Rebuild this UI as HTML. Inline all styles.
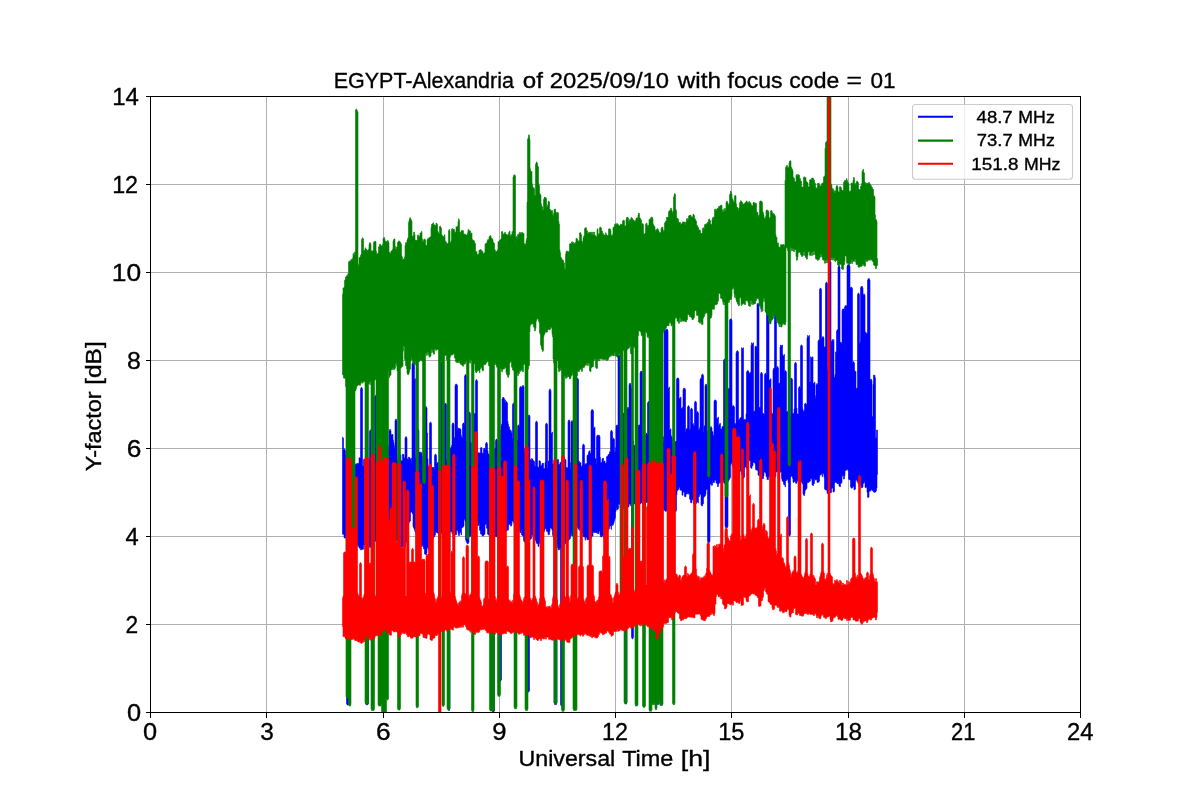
<!DOCTYPE html>
<html lang="en"><head><meta charset="utf-8"><title>EGYPT-Alexandria Y-factor</title>
<style>
html,body{margin:0;padding:0;background:#fff;}
body{width:1200px;height:800px;overflow:hidden;position:relative;font-family:"Liberation Sans", sans-serif;}
svg text{font-family:"Liberation Sans", sans-serif;fill:#000;stroke:#000;stroke-width:0.35px;}
</style></head><body>
<svg width="1200" height="800" viewBox="0 0 1200 800" style="position:absolute;left:0;top:0;will-change:transform">
<rect x="0" y="0" width="1200" height="800" fill="#fff"/>
<g id="grid" stroke="#b0b0b0" stroke-width="1.1" fill="none" shape-rendering="crispEdges">
<path d="M266.5 96V712"/>
<path d="M383.5 96V712"/>
<path d="M499.5 96V712"/>
<path d="M615.5 96V712"/>
<path d="M731.5 96V712"/>
<path d="M848.5 96V712"/>
<path d="M964.5 96V712"/>
<path d="M150 624.5H1080"/>
<path d="M150 536.5H1080"/>
<path d="M150 448.5H1080"/>
<path d="M150 360.5H1080"/>
<path d="M150 272.5H1080"/>
<path d="M150 184.5H1080"/>
</g>
<clipPath id="cp"><rect x="150" y="96" width="930" height="616"/></clipPath>
<g clip-path="url(#cp)" fill="none" stroke-linejoin="round" stroke-linecap="butt">
<path d="M342.5 534.27V437.3H343V438.2H343.5V449.6H344V448.8H344.5V449.7H345V450.3H345.5V455H346V455.2H346.5V455.4H347V458.3H347.5V458.5H348V458.8H348.5V456H349V456.2H349.5V456.4H350V457.3H350.5V457.5H351V457.8H351.5V453.3H352V453.5H352.5V453.7H353V458.7H353.5V459H354V459.2H354.5V464H355V464.2H355.5V464.4H356V463.8H356.5V464H357V464.2H357.5V463.2H358V463.5H358.5V463.7H359V457.7H359.5V458H360V458.1H360.5V388.7H361V387.5H362V388.7H362.5V466.1H363V466.2H363.5V459.4H364V459.5H364.5V459.6H365V464.4H365.5V464.5H366V464.6H366.5V458.6H367V458.7H367.5V458.8H368V459.8H368.5V459.9H369V460H369.5V431.2H370V430H371V431.2H371.5V460.9H372V461H372.5V467.1H373V467.2H373.5V467.3H374V468H374.5V397H375V395.8H376V397H376.5V463.8H377V463.6H377.5V463.7H378V463.8H378.5V461.9H379V462H379.5V462.1H380V461.3H380.5V460.3H381V459.3H381.5V464.6H382V463.6H382.5V462.6H383V460.5H383.5V459.5H384V458.5H384.5V452.1H385V451.1H385.5V450.1H386V453.3H386.5V452.3H387V451.3H387.5V449.5H388V447.9H388.5V445.6H389V430.7H389.5V429.5H390.5V430.7H391V434.6H391.5V435.3H392V434.5H392.5V434.6H393V440.2H393.5V442.6H394V445.5H394.5V448.3H395V420.4H395.5V419.2H396.5V420.4H397V460.5H397.5V460.7H398V454.5H398.5V454.8H399V455H399.5V454.3H400V454.5H400.5V454.8H401V460.6H401.5V460.8H402V461.1H402.5V454H403V454.3H403.5V454.5H404V457.8H404.5V458H405V437.9H405.5V436.7H406.5V437.9H407V458.8H407.5V459.1H408V459.3H408.5V457.1H409V457.3H409.5V457.6H410V459.6H410.5V459H411V458.3H411.5V462.7H412V363.7H412.5V362.5H414V363.7H414.5V380H415V378.8H415.5V457.7H416V454.8H416.5V430.4H417V429.2H418.5V430.4H419V452.1H419.5V452.7H420V453.2H420.5V451.9H421V452.5H421.5V453.1H422V456.3H422.5V456.9H423V457.5H423.5V461H424V461.6H424.5V462.2H425V407.9H425.5V406.7H426.5V407.9H427V433H427.5V458.6H428V466.7H428.5V467.2H429V467.8H429.5V423.4H430V422.2H431V423.4H431.5V467.5H432V467.4H432.5V467.6H433V467.5H433.5V467.3H434V469.2H434.5V455.4H435V454.2H436V455.4H436.5V463.2H437V462.7H437.5V462.5H438V462.4H438.5V466.7H439V466.6H439.5V466.5H440V465.9H440.5V363.7H441V362.5H442V363.7H442.5V464.1H443V465.6H443.5V465.4H444V404.5H444.5V403.3H446V404.5H446.5V461.1H447V459.5H447.5V451.7H448V450.1H448.5V448.6H449V451H449.5V449.5H450V447.9H450.5V448.4H451V446.9H451.5V445.3H452V424.2H452.5V423H453.5V424.2H454V438.1H454.5V437.4H455V385.4H455.5V384.2H457V385.4H457.5V429.6H458V428H458.5V428.4H459V428.8H459.5V428.6H460V429H460.5V429.4H461V435.5H461.5V437.6H462V438H462.5V424.2H463V423H464V424.2H464.5V375.9H465V374.7H466V375.9H466.5V441.4H467V438.6H467.5V439H468V439.7H468.5V413.4H469V412.2H470V413.4H470.5V442.2H471V443.2H471.5V450.4H472V451.4H472.5V452.4H473V453.8H473.5V454.8H474V414.5H474.5V413.3H475.5V380.9H476V379.7H477V380.9H477.5V452.9H478V452.8H478.5V452.7H479V453.1H479.5V453H480V452.9H480.5V447.8H481V447.7H481.5V447.6H482V453.3H482.5V453.2H483V453.1H483.5V448.7H484V448.6H484.5V448.5H485V449.5H485.5V443.7H486V442.5H487V443.7H487.5V450.5H488V453.7H488.5V454.3H489V455H489.5V456.6H490V457.3H490.5V457.9H491V457.8H491.5V458.4H492V458.2H492.5V454.5H493V453.4H493.5V452.2H494V450.1H494.5V449H495V447.9H495.5V440.4H496V439.2H497V440.4H497.5V443.1H498V442H498.5V442.2H499V441.1H499.5V439.9H500V433.9H500.5V429.9H501V425.9H501.5V424H502V398.7H502.5V397.5H504V398.7H504.5V400.4H505V399.9H505.5V402.9H506V401.7H507V402.9H507.5V421.2H508V424.2H508.5V427.2H509V426.8H509.5V429.8H510V431.3H510.5V429.9H511V431.4H511.5V432.9H512V438.3H512.5V404.5H513V403.3H514V404.5H514.5V445.5H515V447.7H515.5V446.6H516V445.6H516.5V441.6H517V440.5H517.5V426.2H518V425H519V426.2H519.5V387.9H520V386.7H521.5V387.9H522V386.7H522.5V385.5H523.5V386.7H524V448.3H524.5V451.4H525V454.5H525.5V455.7H526V457.4H526.5V457.8H527V455.8H527.5V456.2H528V416.2H528.5V415H529.5V416.2H530V459.5H530.5V459.9H531V460.2H531.5V458.6H532V458.9H532.5V459.3H533V460.7H533.5V461H534V461.4H534.5V466H535V466.3H535.5V422.5H536V421.3H537V422.5H537.5V466.8H538V467.2H538.5V467.5H539V460.7H539.5V461.1H540V461.2H540.5V465.5H541V465.4H541.5V465.3H542V463.3H543V463.2H543.5V468.6H544V468.5H544.5V468.4H545V462.3H545.5V424.5H546V423.3H547V424.5H547.5V468.1H548V461.1H549V390.4H549.5V389.2H550.5V390.4H551V433.3H552V432.1H552.5V464H553.5V463.9H554V467.2H554.5V467.1H555V467H555.5V463H556.5V462.9H557V459.7H557.5V459.6H558V459.5H558.5V464.3H559V464.2H560V462.3H560.5V462.4H561V462.5H561.5V462.4H562V462.5H562.5V462.6H563V459H563.5V459.1H564V459.2H564.5V459.4H565V459.5H565.5V459.6H566V467.5H566.5V467.6H567V467.7H567.5V468.1H568V421.2H568.5V420H569.5V421.2H570V468.7H570.5V462.7H571V422H571.5V420.8H572.5V422H573V460.1H573.5V465.3H574V465.4H574.5V465.5H575V467.4H575.5V467.5H576V467.6H576.5V379.5H577V378.3H578V379.5H578.5V461.3H579V461.4H579.5V463.3H580V463.1H580.5V462.5H581V466.7H581.5V466.1H582V465.6H582.5V445.4H583V444.2H584V445.4H584.5V464.2H585V463.7H585.5V464.6H586V464H586.5V463.5H587V455.5H587.5V455H588V454.4H588.5V451.9H589V451.4H589.5V450.8H590V453.3H591V410.9H591.5V409.7H593V410.9H593.5V428.3H594.5V427.1H595V458.5H595.5V458.8H596V463.5H596.5V436.5H597V435.3H599.5V436.5H600V457.4H600.5V462.7H601V462.4H601.5V462.1H602V458.8H602.5V458.5H603V458.2H603.5V461.6H604V461.3H604.5V461H605V463.4H605.5V463.1H606V462.8H606.5V456.7H607V456.4H607.5V456.1H608V454.7H608.5V454.4H609V454.1H609.5V451.8H610V451.6H610.5V431.7H611V430.5H612V431.7H612.5V439.5H613V438.3H614V439.5H614.5V452.6H615V451.4H615.5V447.7H616V426.2H616.5V425H617.5V426.2H618V356H618.5V354.8H619.5V356H620V439.5H620.5V440.1H621V440.6H621.5V441H622V441.6H622.5V414.5H623V413.3H624V414.5H624.5V445.6H625V445.8H625.5V445.5H626V450.2H626.5V450H627V408.7H627.5V407.5H628.5V408.7H629V384.5H629.5V383.3H630.5V384.5H631V388.3H632V387.1H632.5V441.4H633V441.1H633.5V445.9H634V445.6H634.5V445.3H635V446.3H635.5V446.1H636V445.8H636.5V439.9H637V439.7H637.5V439.4H638V426.2H638.5V425H640V372.5H640.5V371.3H642V372.5H642.5V436.5H643V436.6H643.5V436.8H644V442H644.5V442.2H645V442.3H645.5V434.5H646V433.3H647V434.5H647.5V402.9H648V401.7H649V402.9H649.5V444H650V444.1H650.5V444.2H651V444.4H651.5V447.6H652V447.7H652.5V447.9H653V444.3H653.5V444.4H654V444.6H654.5V448H655V448.2H655.5V448.3H656V443.4H656.5V443.5H657V443.7H657.5V441.7H658V441.9H658.5V442H659V443H659.5V443.1H660V442.7H660.5V447.4H661V446.4H661.5V445.4H662V438.8H662.5V437.8H663V436.8H663.5V441.2H664V331.2H664.5V330H665.5V330.4H666V329.2H667.5V330.4H668V388.3H669V387.1H669.5V430H670.5V428.8H671V435.8H671.5V436.8H672V437.9H672.5V444.3H673V445.3H673.5V446.4H674V440.6H674.5V441.7H675V442H675.5V441.6H676V441.1H676.5V379.2H677V378H678.5V379.2H679V398.3H680.5V397.1H681V408.3H682.5V407.1H683V389.5H683.5V388.3H685V389.5H685.5V432.1H686V429.3H686.5V428.8H687V428.3H687.5V407H688V405.8H689V407H689.5V429.4H690V429H690.5V409.5H691V408.3H692V409.5H692.5V423.9H693V423.6H693.5V425.9H694V425.6H694.5V402.5H695V401.3H696V402.5H696.5V412.9H697V411.7H698V412.9H698.5V430H699V429.8H699.5V427.7H700V379.5H700.5V378.3H701.5V375.4H702V374.2H703V375.4H703.5V431.9H704V425.8H704.5V426.2H705V385.4H705.5V384.2H706.5V385.4H707V430.7H707.5V431H708V431.4H708.5V430.2H709V430.6H709.5V430.9H710V427.9H710.5V426.7H711.5V427.9H712V431.5H712.5V431.8H713V435.3H713.5V435.6H714V401.2H714.5V400H716V401.2H716.5V418.3H718V417.1H718.5V426H719V424.7H719.5V423.7H720V423.4H720.5V428.7H721V428.9H721.5V429.2H722V426.6H722.5V426.8H723V427.1H723.5V360.4H724V359.2H725V360.4H725.5V430.3H726V430.5H726.5V428.4H727V428.6H727.5V428.9H728V389.5H728.5V388.3H729.5V320.2H730V319H731.5V320.2H732V407H732.5V405.8H734V407H734.5V423.8H735V423.5H735.5V424.2H736V352.7H736.5V351.5H737V350.8H738V352H738.5V420H739.5V418.8H740V418.3H740.5V417.7H741V417.1H741.5V347.8H742V348.7H743V347.8H743.5V419.4H744V419.1H744.5V420.3H745V420H745.5V419.7H746V413.7H746.5V372H747V370.8H748.5V372H749V373.3H750.5V372.1H751V345.2H751.5V342.8H752V344H753V342.8H753.5V411.6H754V411.3H754.5V411.1H755V346.5H755.5V346.3H756V347.5H756.5V346.5H757V303.6H757.5V304.8H758.5V303.6H759V407.2H759.5V407.3H760V407.2H760.5V373.7H761V372.5H762V373.7H762.5V413.3H763V413.5H763.5V413.6H764V414.3H764.5V374.5H765V373.3H766V374.5H766.5V311.1H767V312.3H768.5V311.1H769V380H770.5V378.8H771V411.6H771.5V413.6H772V413.7H772.5V413.8H773V369.5H773.5V368.3H774.5V314.5H775V315.7H776V314.5H776.5V367.9H777V366.7H778V367.9H778.5V383.3H780V347H780.5V345H781V345.7H782V345H782.5V354.6H783V355.8H784V354.6H784.5V372H785V370.8H786V372H786.5V411.8H787V411.7H787.5V411.6H788V411.2H788.5V411.1H789V411H789.5V415.2H790V415.1H790.5V379.5H791V378.3H792V379.5H792.5V413.5H793V413.4H793.5V413.3H794V408.8H794.5V363.7H795V362.5H796V363.7H796.5V408.1H797V414.1H797.5V414H798V413.9H798.5V387.9H799V386.7H800V387.9H800.5V346.2H801V345H802V346.2H802.5V408.8H803V411.4H803.5V411H804V410.6H804.5V404H805V403.6H805.5V403.2H806V404.8H806.5V404.4H807V337.7H807.5V335.5H808V336.5H808.5V336.7H809V335.5H809.5V381.7H810.5V356.8H811V357.7H812V358H812.5V356.8H813V383.3H814.5V382.1H815V398.3H815.5V395.8H816V384.9H816.5V383.7H817.5V384.9H818V341.2H818.5V340H819.5V289.4H820V288.2H821V289.4H821.5V338.5H822V337.3H822.5V336.7H823.5V337.9H824V347.9H824.5V346.7H825.5V283.5H826V282.3H827V283.5H827.5V369.8H828V366.4H828.5V361.9H829V261.9H829.5V260.7H830.5V261.9H831V341.7H831.5V341.1H832V339.6H832.5V340.8H833.5V339.6H834V378H834.5V376.9H835V374.2H835.5V351.9H836V352.9H836.5V331H837V329.8H838V266.9H838.5V265.7H839.5V266.9H840V342.8H840.5V342.1H841V343.2H841.5V342.8H842V310.2H842.5V309H844V310.2H844.5V306.9H845V305.7H847V266H847.5V264.8H849.5V266H850V288.5H850.5V287.3H852V288.5H852.5V362.9H853V361.7H854V362.9H854.5V370.8H855V371.9H855.5V371.3H856V388H856.5V389.2H857V388H857.5V294.4H858V293.2H859V294.4H859.5V344.1H860V342.1H860.5V287.7H861V286.5H862.5V287.7H863V295.2H863.5V294H864.5V295.2H865V333.3H865.5V332H866V333.2H867.5V279.9H868V278.7H869.5V279.9H870V380H870.5V379.2H871.5V380.4H872V416.6H873V384.3H873.5V375.2H875V378H875.5V437.4H876.5V430H877V430.1H877.5V474.5H877V488.1H876.5V490.6H876V491.9H875.5V492H875V492.3H874.5V492.2H874V492.1H873.5V490.8H873V490.7H872V489.4H871.5V489.5H871V490.8H870.5V490.9H870V491.1H869.5V491.5H869V497H868.5V497.4H868V497.3H867.5V492.4H867V487.3H866.5V486.8H866V487.9H865.5V487.3H865V481.3H864.5V482.8H864V483.1H863.5V483.6H863V487H862.5V487.5H862V488H861.5V486.6H861V486.2H860.5V481.8H860V483.2H859.5V482.9H859V482.7H858.5V483.9H858V482H857.5V481.8H857V479.8H856.5V480.1H856V480.6H855.5V489.1H855V489.5H854.5V490H854V486.6H853V487.3H852.5V488.1H852V488.2H851.5V487.7H851V487H850.5V480H850V479.4H849.5V479.8H849V479H848.5V471.1H848V469.7H847.5V469.3H847V469.6H846.5V470.2H846V470.4H845.5V470.7H845V475.7H844.5V478.8H844V479.1H843.5V475.3H843V475.8H842.5V476.3H842V482.7H841.5V483.2H841V483.6H840.5V486.7H840V486.6H839.5V486H839V483.8H838.5V483.7H837.5V483.4H837V482.8H836.5V482.7H836V481.9H835.5V482.3H835V482.7H834.5V491.4H834V491.8H833.5V492.1H833V487.9H832V488.5H831.5V492.6H831V492.7H830V493.3H829.5V493.9H828.5V493.5H828V493.4H827.5V493.3H827V490.2H826.5V490.1H826V489.9H825.5V489.7H825V488.8H824.5V477.4H824V474.2H823.5V473.4H823V473.2H822.5V476.7H822V474.2H821.5V474H821V474.4H820.5V475H820V475.7H819.5V481.2H819V481.9H818.5V482.4H818V482.5H817.5V482.3H817V479.7H816.5V479.8H816V479.7H815.5V480.1H815V478.5H814.5V483.5H814V483.9H813.5V485.6H813V485.2H812.5V484.9H812V479.1H811.5V478.8H811V478.5H810.5V481.1H809.5V481.8H809V482.3H808.5V482.5H808V483H807.5V482.2H807V488.5H806.5V489H806V489.8H805.5V490.2H805V493.5H804.5V495.7H804V495.1H803.5V494.3H803V484H802.5V483.2H802V482.4H801.5V481.7H801V481.6H800.5V479.7H800V478.3H799.5V478.2H799V478.5H798.5V476.4H798V480.8H797.5V481.2H797V483.2H795.5V481.5H795V481.4H794V482.5H793.5V482.2H793V478.4H792.5V476.4H792V476.1H791.5V476.2H791V476.9H790.5V534.8H790V536H789V534.8H788.5V482.5H788V479.7H787.5V479.6H787V479.5H786.5V480.5H786V481.1H785.5V486.9H785V485H784.5V484.7H784V484.3H783.5V481.7H783V481.3H782.5V480.7H782V478.6H781.5V472H781V471.4H780.5V472.3H780V472.5H779.5V472.7H779V471.3H778.5V471.5H778V471.7H777.5V471.6H777V471.8H776.5V472H776V476.4H775.5V476.6H775V476.8H774.5V473.5H774V473.7H773.5V473.9H773V476.8H772.5V477H772V477.2H771.5V476H771V476.2H770.5V476.4H770V476.6H769.5V476.7H768.5V479.6H768V479.7H767.5V479.6H767V476.7H766.5V476.5H766V473.3H765.5V472H764.5V472.2H764V475.9H763.5V478.5H763V478.7H762.5V478.8H762V478.7H761V473.1H760.5V473H759.5V475.7H759V475.4H758.5V475.1H758V470.6H757.5V470.3H757V469.9H756V469.5H755.5V464.4H755V462.7H754.5V462.3H754V462.5H753.5V461.9H753V465.7H752.5V466H752V468.4H751.5V468H751V467.5H750.5V461.2H750V460.7H749.5V460.2H749V458.9H748.5V459.3H748V459.6H747.5V467.8H747V468.2H746.5V468.6H746V466.5H745.5V467H745V467.6H744.5V477.2H744V477.7H743.5V478.2H743V475H742.5V474.8H742V474.6H741.5V471.4H741V471.2H740.5V471H740V468.6H739.5V468.2H739V467.8H738.5V469.2H738V468.8H737.5V468.3H737V467.6H736.5V467.2H736V466.8H735.5V465.4H735V465H734.5V464.6H734V467.2H733.5V466.8H733V466.4H732.5V463H732V462.6H731.5V463.4H731V464.8H730.5V477.5H730V478.5H729.5V479.4H729V480.4H728.5V481.4H728V526.5H727.5V527.7H725.5V526.5H725V483.7H724.5V483.1H724V482.5H723.5V480.8H723V480.7H722V483.1H721.5V482.5H720.5V482.7H719.5V482.9H719V483.9H718.5V486.4H718V486.6H717.5V483.5H717V483.2H716.5V483H716V480.4H715.5V480.1H715V479.9H714.5V482.4H714V482.5H713.5V482.8H713V480.8H712.5V485.2H712V485.4H711.5V483.8H711V484.1H710.5V484.3H710V541.5H709.5V542.7H708V541.5H707.5V489.6H706.5V489.9H706V494.3H705.5V495.8H705V496.3H704.5V496.8H704V497.4H703.5V503.7H703V504.2H702.5V506.1H702V505.5H701.5V505H701V494.7H700.5V494.2H700V494.1H699.5V496.4H699V496.7H698.5V502.9H698V501.7H697.5V502.1H697V502.4H696.5V503.4H696V503.3H695.5V503.2H695V504.1H694.5V504H694V503.9H693.5V499.8H692.5V499.7H692V502.7H691V502.6H690.5V499.4H690V499H689.5V493.3H689V494.1H688.5V493.8H688V493.9H687.5V492H687V493.9H686.5V494H686V496.7H685.5V496.6H685V496.5H684.5V492.2H684V492.1H683.5V492H683V495.3H682.5V495H682V490.5H681.5V490.2H681V490H680.5V490.1H680V487.3H679.5V487.4H679V489.3H678.5V489.8H678V489.9H677.5V490.9H677V494.6H676.5V510.4H676V511.9H675.5V511.1H674.5V511H674V509.9H673.5V509.8H673V509.7H672.5V510.5H672V510.4H671V509.7H670.5V509.6H670V509.5H669.5V508.8H669V508.7H668V510.7H667.5V510.6H667V510.5H666.5V511.3H666V511.2H665V510.3H664.5V510.2H664V510.1H663.5V507.3H663V507.2H662.5V507.1H662V509.1H661.5V509H661V508.9H660.5V506.8H660V506.7H659.5V506.6H659V703.3H658.5V704.5H657.5V703.3H657V506.6H656.5V506.5H656V507.4H655.5V507.2H655V507.1H654.5V507H654V700.8H653.5V702H653V700.8H652.5V504.2H652V504H651.5V506.4H651V506.3H650.5V506.1H650V506.6H649.5V506.4H649V506.3H648.5V502.5H648V502.3H647.5V502.2H647V502.6H646.5V502.3H646V502.1H645.5V506H645V505.8H644.5V505.5H644V504.3H643.5V504.1H643V503.8H642.5V503H642V502.7H641.5V502.5H641V503.9H640.5V503.6H639V503.9H638.5V504.1H638V502.3H637.5V502.5H637V502.8H636.5V502.5H636V502.7H635.5V503H635V503.7H634.5V504H634V504.2H633.5V637.6H633V638.8H632V637.6H631.5V505.5H631V505.7H630.5V503.9H630V504H629.5V504.2H629V506.9H628.5V507H628V507.1H627.5V506.5H627V702.8H626.5V704H625.5V702.8H625V505.6H624.5V508.4H623V506.4H621.5V508H620V504.1H619.5V504.2H619V504.3H618.5V508.9H618V509H617.5V509.9H617V508.1H616.5V509.9H616V511.7H615.5V517.7H615V519.5H614.5V521.3H614V523.3H613.5V524.8H613V525H612.5V525.4H612V525.6H611.5V529.4H611V525.7H610.5V525.9H610V526.3H609.5V528.7H609V529.3H608.5V529.9H608V531.6H607.5V532.2H607V532.8H606.5V534.5H606V535.1H605.5V535.7H605V536.3H604.5V536.9H604V537.5H603.5V534.9H603V535.5H602.5V536.1H602V537H601.5V536.9H601V536.7H600.5V535H600V531.3H599.5V531.1H599V533.5H598.5V533.4H598V533.5H597.5V532.6H597V532.8H596.5V533H596V532.3H595.5V532.4H595V532.6H594.5V532.1H594V532.3H593.5V532.5H593V535.9H592.5V536.3H592V536.7H591.5V538.4H591V538.8H590.5V539.3H590V538.9H589.5V539.3H589V539.7H588.5V539.2H588V539.6H587.5V540H587V537.7H586.5V537.6H586V537.4H585.5V540.2H585V537.1H584.5V536.9H584V536.7H583.5V536.4H583V535.4H582.5V533.1H582V532.1H581.5V531.1H581V530.1H580.5V529.1H580V528.1H579.5V530.3H579V529.3H578.5V528.6H578V526.4H577.5V527.2H577V528H576.5V528.5H576V529.3H575.5V530.1H575V532.7H574.5V533.5H574V534.3H573.5V535.6H573V535.7H572.5V535.9H572V533.1H571.5V535.5H571V535.7H570.5V538.4H570V538.8H569.5V539.5H569V540.1H568.5V540.7H568V541.4H567.5V542.5H567V543.2H566.5V543.9H566V542.9H565.5V543.5H565V544.2H564.5V545.5H564V546.1H563.5V546.7H563V547H562.5V704.8H562V706H561V704.8H560.5V548.2H560V548.6H559.5V549.9H559V550H558.5V549.1H558V547.5H557.5V545.8H557V703.3H556.5V704.5H554.5V703.3H554V538.4H553.5V536.8H553V535.2H552.5V530.3H552V528.7H551.5V528.6H551V527.7H550.5V527.9H550V531.6H549.5V534.4H549V534.6H548.5V534.8H548V531.7H547.5V531.6H547V531.4H546.5V528.9H546V528.8H545.5V528.6H545V530H544.5V531.3H544V532.6H543.5V534.7H543V536H542.5V537.2H542V538.6H541.5V539.9H541V541.2H540.5V541.1H540V542.3H539.5V543.6H539V546.6H538.5V546.4H538V543.9H537.5V543.5H537V543.3H536.5V542.7H536V540.4H535.5V539.7H535V539.1H534.5V540H534V539.3H533.5V538.6H533V535.6H532.5V534.9H532V534.2H531.5V538.5H531V539H530.5V539.4H530V535.8H529.5V690.8H529V692H528V690.8H527.5V538.7H527V541.8H526.5V542.2H526V542.7H525.5V541.2H525V541.7H524.5V542.1H524V540.4H523.5V536.1H523V535.8H522.5V535.2H522V534.9H521.5V529.9H521V532.8H520.5V532.5H520V532.1H519.5V529.2H519V528.6H518.5V528H518V528.2H517.5V527.6H517V527H516.5V527.1H516V526.4H515.5V525.8H515V524H514.5V523.4H514V522.8H513.5V521.2H513V521.3H512V524.8H511.5V526.1H510.5V523.8H510V524H509.5V524.4H509V524.7H508.5V529.8H508V530.2H507.5V529.9H507V530.6H506.5V531.2H506V531.8H505.5V532.5H505V533.1H504.5V537.4H504V538.1H503.5V538.7H503V538.8H502.5V539.1H502V539H501.5V679.8H501V681H500V679.8H499.5V535.9H499V535.8H498.5V537.1H498V537H497.5V536.9H497V536.8H496.5V536.7H496V536.5H495.5V536.2H495V536H494.5V710.8H494V712H492.5V710.8H492V534.9H491.5V534.7H491V531.3H490.5V531H490V530.8H489.5V535.2H489V535H488.5V534.7H488V534H487.5V528.7H487V528.1H486.5V523.8H486V524.2H485.5V524.6H485V534.2H484.5V534.6H484V535H483.5V536.1H483V535.9H482.5V535.8H482V534.3H481.5V534.2H481V534H480.5V530.7H480V530.2H479.5V523.2H479V525.4H478.5V525.1H478V525.8H477.5V523.2H477V523.9H476.5V524.7H476V525.5H475.5V526.2H475V527H474.5V527.7H474V528.4H473.5V529.2H473V531.4H472.5V532.1H472V532.8H471.5V535.1H471V535.8H470.5V536.5H470V536H469.5V536.7H469V542.3H468.5V543.5H467V542.3H466.5V541.6H466V539.7H465.5V521.3H465V519H464.5V519.5H464V525.8H463.5V526.8H463V527.2H462.5V527.7H462V528.1H461.5V535H461V532.2H460.5V532.6H460V532.8H459.5V535.5H459V535.4H458.5V533.5H458V530.8H457.5V530.7H457V530.6H456.5V534.8H456V534.7H455V530.9H454.5V530.8H454V530.7H453.5V534H452.5V533.9H452V531.7H451.5V531.8H450.5V531.7H450V709.3H449.5V710.5H448.5V709.3H448V532.7H447.5V532.8H447V532.9H446V534.4H445V534.5H444.5V532.4H443.5V532.5H443V532.8H442.5V533H442V533.1H441.5V533.2H441V533.3H440.5V533.4H440V534.3H439.5V534.4H439V534.5H438.5V532.8H438V532.9H437.5V533.1H437V532.4H436.5V532.3H436V531.7H435.5V535.1H435V535.6H434.5V536.8H433.5V538H433V539.2H432.5V537.8H432V539H431.5V540.1H431V543.2H430.5V544.4H430V545.6H429.5V547.3H429V548.5H428.5V549.5H428V547.6H427.5V548H427V553H426.5V554.3H426V554.5H425.5V554.1H424.5V549.1H424V548.7H423.5V546.8H423V545.8H422.5V544.8H422V546.8H421.5V545.8H421V544.8H420.5V544.3H420V543.3H419.5V542.3H419V538.1H418.5V537.1H418V535.9H417.5V534.4H417V533.2H416.5V532H416V533H415.5V531.8H415V530.6H414.5V528.9H414V527.8H413.5V526.8H413V513.9H412.5V512.9H412V511.8H411.5V512H411V512.6H410.5V520.9H410V521.5H409.5V522.2H409V523.3H408.5V527.2H408V542.4H407.5V543.6H407V540.9H406.5V541.5H406V542H405.5V546.6H405V547.1H404.5V547.6H404V545.1H403.5V545.6H403V546.1H402.5V546.8H402V547.3H401.5V547.1H401V546.5H400.5V546.1H400V539.9H399.5V541.6H399V541.3H398.5V540.9H398V540.4H397.5V540.2H397V540H396.5V540.8H396V540.6H395.5V540.4H395V538.5H394.5V538.3H394V538.1H393.5V539.7H393V539.5H392.5V539.3H392V535.9H391.5V535.7H391V535.5H390.5V535.2H390V535.3H389.5V535.5H389V537.6H388.5V537.9H388V538.1H387.5V538.5H387V538.8H386.5V539H386V537.1H385.5V537.3H385V537.6H384.5V540.5H384V540.7H383.5V541H383V539.5H382.5V539.7H382V540H381.5V541.2H381V541.5H380.5V541.7H380V540.2H379.5V540.4H379V540.7H378.5V540H378V540.2H377.5V540.5H377V540.8H376.5V541.1H376V541.3H375.5V541H375V541.2H374.5V541.5H374V545.4H373.5V545.7H373V545.9H372.5V543.2H372V543.4H371.5V543.7H371V547H370.5V547.2H370V547.4H369.5V546.1H369V546.2H368.5V703.5H368V704.7H366V703.5H365.5V547.2H365V544.7H364.5V544.8H364V544.9H363.5V549.2H362.5V549.3H362V549.7H361.5V549.8H360.5V548.2H359.5V548.1H359V546.5H358.5V545.8H357.5V544.8H357V544.3H356.5V543.8H356V547.4H355.5V546.9H355V546.4H354.5V541.3H354V540.8H353.5V540.3H353V544.1H352.5V543.6H352V543.1H351.5V542.7H351V542.2H350.5V541.7H350V536.8H349.5V536.5H349V703.8H348.5V705H347V703.8H346.5V536.3H346V536H345.5V538.2H345V537.9H344.5V537.7H344V534.5H343.5V534.3H342.5Z" fill="#0000ff" stroke="#0000ff" stroke-width="0.6"/>
<path d="M342.5 374.91V294.2H343V288H343.5V287.9H344V287H344.5V280.4H345V279.6H345.5V277H346V276.8H346.5V275.8H347V275.7H347.5V274.6H348V273.4H348.5V262.2H349V261H349.5V261.5H350V261.4H350.5V260.3H351V259.3H351.5V260.1H352V260H352.5V258.1H353V253.4H353.5V255.1H354V255H354.5V252H355.5V110H356V109H356.5V109.7H357V110.8H357.5V112.1H358V265.4H358.5V264.4H359V257.7H360V256.9H360.5V255.3H361V254.3H361.5V239.6H362V238.6H362.5V237.7H363V239H363.5V250.3H364V251.6H364.5V250.1H365V247.8H365.5V249.3H366V249.1H366.5V249.4H367V250.8H367.5V250.5H368V250.3H368.5V249.1H369V244.3H369.5V242.7H370V242.8H370.5V243.9H371V250.7H371.5V251.3H372.5V250.9H373V250.3H373.5V242.3H374V241.7H374.5V241.4H375V241.6H376V251.2H376.5V253.9H377V254.2H377.5V253.5H378V253.1H378.5V246.9H379V246.5H379.5V244.3H380V244.1H380.5V245.2H381V245.8H381.5V245.9H382V245.7H382.5V244.4H383V238.4H383.5V238H384V237.5H384.5V238.9H385V241.4H385.5V241.1H386V241.3H386.5V242.2H387V241.8H387.5V240.5H388V240.9H388.5V242.8H389V251.9H389.5V252.9H390V253.2H390.5V252.8H391V250.9H391.5V251H392V250.6H392.5V249.3H393V241H393.5V239.6H394V238.9H394.5V239.1H395V246.5H395.5V248.7H396V249.5H396.5V247H397V246.6H397.5V242.3H398V241.9H398.5V240.9H399.5V242H400.5V242.9H401V244.3H401.5V255.8H402V257.3H402.5V259.4H403V259.3H403.5V258.9H404.5V257H405V245.4H405.5V242.7H406V242.4H406.5V243.8H407V240H407.5V238.6H408V237.4H408.5V222.2H409V220.2H409.5V218.3H410V217.7H410.5V218.9H411V220H411.5V221H412V236.5H412.5V236.1H413V235.7H413.5V232.4H414V232H414.5V234.6H415V240.8H415.5V240H416V240.6H416.5V240.3H417V240H417.5V235.2H418V234.9H418.5V236.4H419V236.1H419.5V236.4H420V233H421V232.7H421.5V231.4H422V238.9H422.5V241.7H423V242H423.5V239.9H424V238.9H424.5V239.4H425V239.7H425.5V244.9H426V245.6H427V239.7H427.5V238.9H428V238.5H428.5V238.4H429V237.5H429.5V237.4H430V236.9H430.5V237.1H431V227.5H431.5V224.5H432V223.9H432.5V223.7H433V222.7H433.5V224.4H434V224.7H434.5V225.3H435.5V226H436V223.1H436.5V223.5H437V224.6H437.5V231.1H438V232.2H438.5V234H439V233.6H439.5V226.6H440V226.2H440.5V227.3H441V228H441.5V234.7H442V235.4H442.5V236.6H443V236.5H443.5V236.4H444V236.3H444.5V234.7H445V240.9H445.5V241.6H446V242.2H446.5V243.8H447V243.4H447.5V243.7H448V243H448.5V230.7H449V229.4H449.5V230.9H450V242.2H450.5V242.5H451V240.7H451.5V229.3H452V228.4H452.5V229.9H453V229.5H453.5V229H454V229.4H454.5V232.3H455V232.6H455.5V231.8H456V226.8H456.5V227.6H457V227H457.5V226H458V221.4H458.5V218.8H459V220.2H459.5V232H460V232.7H460.5V232.3H461V231H461.5V230.6H462V230.5H463V230.8H463.5V233.9H464V234.2H464.5V234.1H465.5V235.1H466.5V234.9H467V234.8H467.5V232.8H468V229.4H468.5V230.9H469V230.7H470V231H470.5V233.4H471V233.7H471.5V232.9H472V239.2H472.5V240.1H473V240.5H473.5V240.4H474V241H474.5V242.9H475V243.5H475.5V251.2H476V252.3H476.5V251.7H477V255.3H477.5V254.2H478.5V253.9H479V250H479.5V250.3H480V250.1H480.5V249.5H481V250.2H481.5V251.5H482V251.7H482.5V251.2H483V254H483.5V253.8H484V253.1H484.5V252.7H485V243.9H485.5V243.7H486V243H486.5V243.7H487V241.2H487.5V239.8H488V239.5H488.5V239.9H489V237H489.5V236.1H490.5V235.6H491V238.1H491.5V238.4H492V238.7H492.5V239.5H493V242.4H493.5V242.7H494V243.6H494.5V249.7H495V250.2H495.5V252.3H496V251.9H496.5V251H497.5V249.7H498V241.5H498.5V241.9H499.5V240.1H500.5V239.6H501V238.5H501.5V231.8H502V231.4H502.5V232.7H503V235H503.5V234.1H504V234H504.5V232.6H505V232.4H505.5V234.1H506V234.3H506.5V234.6H507V234.8H507.5V235.3H508V235H508.5V232.7H509V232.4H509.5V231H510V234.7H510.5V235.9H511V236H511.5V234.4H512V231.5H512.5V233.7H513V176.8H513.5V175.3H514V175.2H514.5V174.8H515V175.9H515.5V236.4H516V236.3H516.5V238.5H517V237.5H517.5V234.6H518V234.5H518.5V235.3H519V232.4H519.5V233.7H520V233.6H520.5V232.4H521V232.5H521.5V233.7H522V232.5H522.5V233H523V233.4H523.5V233.6H524V243.9H524.5V243.7H525V243.9H525.5V245.5H526V240.6H526.5V238.4H527V202.1H527.5V139.3H528V137.6H528.5V134.9H529V135.2H529.5V139.2H530V168.8H530.5V171.3H531V171.8H531.5V171.4H532V183.7H532.5V186.6H533V188.7H533.5V187.7H534V188.4H534.5V195.3H535V196.1H535.5V163.9H536V163.1H536.5V161.9H537V163.3H537.5V165.6H538V167.1H538.5V183.5H539V185.4H539.5V193.3H540V194.5H540.5V195H541V204H541.5V205.9H542V206.8H542.5V210.3H543V210H543.5V199.6H544V198.2H544.5V197.1H545V198.1H545.5V197.5H546V198.4H546.5V206.6H547V206.9H547.5V205.1H548V202.1H548.5V201.1H549V202.1H549.5V209.1H550V209.6H550.5V210.9H551V211.3H551.5V210.4H552V210.6H552.5V215H553V215.4H553.5V213.1H554V209.5H554.5V209H555.5V211.9H556V212.3H556.5V214.3H557V212.9H557.5V212.4H558V213H558.5V221.4H559V224.3H559.5V249.7H560V252.4H560.5V256.8H561V257.7H561.5V258.7H562V259.7H562.5V260H563V260.4H563.5V262.6H564V262.9H564.5V268.4H565V269.4H565.5V254.2H566V251.6H566.5V251H567V250.9H567.5V251.9H568V251.8H568.5V251.7H569V251.2H569.5V244.1H570V243.5H570.5V243.9H571V243.7H571.5V241.9H572V241.8H572.5V243.2H573.5V242.4H574V243.4H575V243.2H575.5V242.1H576V238.2H576.5V238.8H577V238.9H577.5V240.7H578V240.8H578.5V241.2H579V240.8H579.5V233H580V232.5H580.5V233.6H581V234.4H581.5V240.8H582V241.7H582.5V244.1H583V237.9H583.5V236.4H584V235.7H584.5V228.7H585V228H585.5V227.6H586V227.9H586.5V230.5H587V230.8H587.5V233.4H588V233.3H588.5V232.4H589V232.3H589.5V232.4H590.5V232.5H591V234.5H591.5V232H592V232.1H592.5V234.6H593.5V232.1H594.5V235H595V235.3H595.5V236.6H596V236.8H596.5V236.2H597V229.4H597.5V228.8H598V233.6H598.5V234.7H599V234.1H599.5V227.7H600V227H600.5V227.5H601V228H601.5V230.8H602V231.3H602.5V233.6H603.5V234.9H604.5V235.1H605V235.2H605.5V232.8H606V233.9H606.5V235.3H607V235.4H607.5V235.6H608V235.2H608.5V229.1H609V228.8H609.5V229H610.5V230.7H611V235.1H611.5V236H612V235.9H612.5V234.3H613V227.2H613.5V227.4H614V226.8H614.5V224.4H615V223.8H615.5V224.7H616V224.6H616.5V223.6H617.5V224.5H618.5V225.6H619.5V225.9H620V225.4H620.5V224.1H621.5V224.8H622V224.5H622.5V221H623V220.7H623.5V220H624V220.8H624.5V225.8H625V225.9H625.5V225.8H626V219.2H626.5V217.5H627V217H627.5V217.7H628V218H628.5V221.2H629V221.4H629.5V219.6H630V219.4H630.5V219.3H631V217.4H631.5V218.2H632V218.1H632.5V219.5H633V219.7H633.5V220.4H634V220.6H634.5V222H635.5V220.1H636V218.2H636.5V218H637V217.7H637.5V219H638V215.1H638.5V213.1H639V213.6H639.5V217.9H640V218.3H640.5V219.6H641V220.1H641.5V223.6H642V224H642.5V223.6H643V224.4H643.5V233.9H644V234.6H644.5V233.8H645V232.9H645.5V224.3H646V223.4H646.5V223.1H647V225.1H647.5V226.4H648V226.2H648.5V225.1H649V219.3H649.5V219.7H650V219.4H650.5V218H651V217.4H651.5V217H652V217.3H652.5V218.7H653V224.2H653.5V225.6H654V225.9H654.5V226.8H655V231.6H655.5V229.9H656V230.3H656.5V229.6H657V228.6H657.5V229.5H658.5V230.8H659V232.7H659.5V232.5H660V232.4H660.5V232.5H661V228.6H661.5V227.5H662.5V227.2H663V230.2H663.5V231.4H664V230.5H664.5V223H665V222.2H665.5V221.3H666V221.1H666.5V217.3H667V217.2H667.5V217.7H668V217.1H668.5V211.7H669V211.1H669.5V210.4H670V210.3H670.5V208.4H671V208.2H671.5V210.1H672V213.5H672.5V211.9H673V210.7H673.5V197.3H674V194.9H674.5V193.5H675V194.6H675.5V208.9H676V210.7H676.5V217.7H677V218.3H677.5V218.7H678V219.1H678.5V222.3H679V222.7H679.5V222.2H680V222.3H680.5V224.7H681V223.8H681.5V223.7H682V223.6H682.5V221.9H683V222H684.5V222.3H685.5V224.4H686V221.5H686.5V218.8H687V218.6H687.5V219.4H688V219.2H688.5V215.9H689V215.7H689.5V215.3H690.5V215.1H691V217H691.5V216.9H692V216.8H692.5V217H693V214.1H693.5V215.1H694V215.5H694.5V218.6H695V219H695.5V220.6H696V221.1H696.5V225.2H697V225.6H697.5V226.8H698V227.2H698.5V229.5H699V229.9H699.5V230.2H700V230.3H700.5V233.5H701V233.6H701.5V233.2H702V232.9H702.5V228.1H703V227.8H703.5V228.7H704V228.4H704.5V224.7H705V224.4H705.5V224.1H706V224.2H706.5V223.5H707V223.6H707.5V222.2H708V221.8H708.5V219.4H709V219.1H709.5V220.2H710V220.7H710.5V224H711V224.6H711.5V224.4H712V219.5H712.5V217.8H713V217.3H713.5V217.4H714V216.8H714.5V209.6H715V209H715.5V210.9H716V210.7H716.5V209H717V208.8H717.5V208.4H718V208.3H718.5V206.7H719V206.6H719.5V206.1H720.5V205.2H721V205.1H721.5V205.4H722V209.7H722.5V211.5H723V211.7H723.5V209.5H724V208.5H724.5V210.9H725V210.6H725.5V208.5H726V202.3H726.5V201.4H727V201.3H727.5V202.9H728V205.3H728.5V204.6H729V203.4H729.5V194.8H730V193.5H730.5V191.1H731V192.2H731.5V194H732V199.7H732.5V198.8H733V200.8H733.5V202.4H734V202H734.5V195.9H735V195.5H735.5V195.8H736V203.8H736.5V207H737V207.6H737.5V207.5H738V210.5H738.5V208.7H739V208H739.5V202.8H740V202.1H740.5V200.8H741V201H741.5V202.1H742V202.3H742.5V204.2H743V204.1H743.5V203.9H744V203.8H744.5V203.2H745V203.1H745.5V201.9H746V201.7H746.5V200.9H747V202.9H747.5V202.1H748V202.2H748.5V202.4H749V201.5H749.5V203.1H750V203.2H750.5V202.7H751V204.7H751.5V205.8H752.5V205.7H753V202.7H753.5V202.3H754V202.5H754.5V203.7H755V204H755.5V202.9H756V203.6H756.5V212H757V212.7H757.5V212.3H758V215.4H758.5V216.8H759V215H759.5V201.8H760V200.9H760.5V201.1H761.5V201.4H762V202.6H762.5V211.5H763V212.8H763.5V215H764V217.9H764.5V218.3H765V218.2H765.5V216.5H766V210.6H766.5V209.9H767V210H767.5V210.7H768V210.8H768.5V212.2H769V218.7H769.5V217.8H770V217.2H770.5V211H771V210.4H771.5V210.5H772V212.1H772.5V213.9H773V214.1H773.5V213.5H774V214.4H774.5V215.1H775V216.4H775.5V234.3H776V236.9H776.5V237.4H777V243.5H777.5V242.8H778V243H778.5V246.8H779V247H779.5V247.2H780.5V244.7H783V244.6H783.5V244.8H784.5V246.2H785V180.3H785.5V167.5H786V166.5H786.5V165.4H787.5V167.4H788.5V166.9H789V162.7H789.5V161.1H790V160.7H790.5V161.2H791V167.1H791.5V168.5H792V169.2H792.5V170.6H793V177.4H793.5V177.8H794V178.3H794.5V181.5H795V182H795.5V181.7H796V174.7H796.5V176H797V175.7H797.5V174.3H798V175.3H798.5V174.8H799V175.1H799.5V178.5H800V178.8H800.5V180.9H801V181.3H801.5V186.8H802V187.3H802.5V187H803V186.5H803.5V177.3H804V176.8H804.5V178H805V177.9H805.5V177.4H806V181.2H806.5V182H807V182.4H807.5V182.8H808V186.7H809V186.5H809.5V180.2H810V179.5H810.5V180.1H811V180H811.5V178.2H812V178.1H813V178.3H813.5V179.8H814V180H814.5V182.7H815V183.4H815.5V187.6H816V188.3H816.5V187.9H817V187.6H817.5V183.5H818V183.1H818.5V183.4H819V183.7H819.5V185.7H820V186.1H820.5V185.9H821V185.5H821.5V183.8H822V183.4H822.5V183H823V182.7H823.5V176.9H824V176.5H824.5V175.9H825V148.2H825.5V142.8H826V141.6H826.5V141.8H827V75.6H827.5V77.4H828.5V76.7H829.5V77.2H830.5V75.2H831V184H831.5V185.3H832V189.2H832.5V188.6H833V188.9H833.5V191.2H834V193.1H834.5V190.8H835V190.6H835.5V192.4H836V186.6H836.5V185.7H837.5V186.8H838V191.7H838.5V192H839V191.7H839.5V186.8H840V186.6H840.5V187.5H841V187.7H841.5V190.2H842V190.4H842.5V190.8H843V190.2H843.5V182.4H844V181.8H844.5V180.4H845V180.3H845.5V180.7H846V180.6H846.5V178.5H847V180.5H847.5V182.3H848V182.8H848.5V183.7H849V191.5H849.5V191.2H850.5V190.8H851V183H851.5V183.8H852V183.2H853V180.3H853.5V177.4H854V177.8H854.5V184.1H855V184.4H855.5V183.2H856V183H856.5V181.3H857V181.1H857.5V182H858V182.7H858.5V189H859V189.6H859.5V189.9H860V189.5H860.5V186.3H861V186H861.5V183.5H862V171.2H862.5V170.4H863V169.3H863.5V172.2H864V173.1H864.5V181.8H865V182.7H865.5V183.4H866V184.4H866.5V183.1H867V183H867.5V184.6H868V183.7H868.5V182.4H869V182.6H869.5V183.8H870V184H870.5V185.5H871V185.8H871.5V187.3H872V187.6H872.5V189H873V189.6H873.5V195.4H874V196H874.5V196.9H875V214.9H875.5V219.4H876V219.8H876.5V221.2H877V258.6H877.5V265.4H877V265.5H876.5V268.6H876V268.7H875.5V266H875V265.8H874.5V265.2H874V265H873.5V262H873V261.5H872.5V260H872V259.6H871.5V260.2H870.5V259.5H869.5V260.2H869V260.3H868.5V258.9H868V260.8H867.5V261.4H867V261.5H866.5V260.1H866V260.3H865.5V266.1H865V266.3H864.5V265.5H863.5V264.3H863V263.7H862.5V265.7H861.5V266.5H861V266.6H860V266.7H859.5V267.3H859V267.1H858.5V267H858V264.5H857.5V264.6H857V264.4H856.5V264.5H856V261.9H855.5V259.7H855V259.6H854.5V261.4H854V261.5H853.5V260.7H853V260.8H852.5V263.4H852V263.5H851.5V260.3H851V262.2H850.5V263.9H849.5V264.6H849V264.5H848.5V263.1H848V263H847.5V263.4H847V262.9H846.5V256.3H846V256H845.5V255.6H845V261.5H844.5V264.5H844V264.9H843.5V269.2H843V269.6H842.5V269H842V268.7H841.5V264.7H841V264.5H840.5V264H840V263.9H839.5V266H838.5V265.2H838V264.9H837.5V260.5H837V260.2H836.5V260.4H835.5V261.6H835V261H834.5V258H833.5V260.1H832.5V258.1H831.5V260H831V260.1H830.5V260.2H830V260.4H829.5V260.6H829V260.8H828.5V259.2H828V259.4H827.5V262.8H827V262.9H826.5V260.5H826V260.7H825.5V263.2H824.5V259.9H823.5V260.2H823V259.7H822.5V257.3H822V256.7H821.5V254.4H821V254.6H820.5V257.2H820V257.4H819.5V259.2H819V259.3H818.5V260H818V260.6H817.5V259H816.5V259.2H816V258.8H815.5V254.8H815V254.4H814.5V251.3H813.5V254.7H813V255.4H812.5V252.4H812V252.5H811.5V255.5H811V255.4H810.5V255.3H810V255.2H809.5V251.2H809V251.4H808.5V252.2H808V255.4H807.5V258.9H807V259.2H806.5V257.8H806V257.6H805.5V255.7H805V255.5H804.5V252.1H803.5V255.2H803V255.8H802.5V256.4H801.5V254.7H801V254.6H800.5V252.4H800V252.3H799.5V252H799V252.2H798.5V252.8H798V257.2H797.5V259.9H797V260.3H796.5V256.4H796V249.9H795.5V249.4H795V249H794.5V251.6H794V251.5H793.5V248.9H793V248.8H792.5V250.9H792V250.8H791.5V248H791V247.3H790.5V464.8H790V466H788.5V464.8H788V250.5H787.5V247.7H787V247.8H786.5V248H786V322.2H785.5V324.7H784.5V324.3H784V324.2H783.5V323.5H783V323.6H782.5V325.2H782V327.1H781.5V326.8H781V326.9H780.5V324.1H780V324H779.5V326.7H779V324.2H778.5V323.1H778V323H777.5V320.4H777V320H776.5V321.5H776V316.4H775.5V315.6H775V315.5H774V315.7H773.5V318.6H773V318.8H772.5V319.9H772V320.1H771.5V321.4H771V324H770.5V323.8H770V323.6H769.5V321.8H769V321.3H768.5V315.5H768V315H767.5V315.3H767V315.1H766.5V312.7H766V312.3H765.5V311.4H765V301.5H764.5V298.2H764V298.6H763.5V301.7H763V311.2H762.5V308.8H762V309.5H761.5V311.8H761V308.5H760.5V306.3H760V305.8H759.5V306.1H759V299.5H758.5V298.1H757.5V298.8H756.5V300.5H756V300.9H755.5V303.5H755V303.9H754.5V303.7H754V303.6H753.5V304.6H753V302.1H752.5V304.4H752V304.2H751.5V300.5H751V300.6H750.5V306.2H750V306.4H749.5V305.8H749V305.7H748.5V302.8H748V300.9H747.5V301.1H747V301H746.5V300.6H746V300.7H745.5V304.5H745V304.6H744.5V303.8H744V303.9H743.5V302.9H743V303.5H742.5V304.5H742V304.6H741.5V305.4H741V297.8H740.5V297.6H740V298.2H739.5V305.3H739V305.9H738.5V304.4H738V304.1H737.5V302.2H737V301.9H736.5V300H736V295.4H735.5V297.8H735V297.2H734.5V293.8H734V287.3H733.5V288.6H733V289.3H732.5V288.3H732V296.5H731.5V299.2H731V299.8H730.5V299.5H730V299.7H729.5V302.2H729V302.5H728.5V301H728V495.8H727.5V497H725.5V495.8H725V305H724.5V302.5H724V302.3H723.5V304.6H723V301.4H722.5V299.1H722V298.8H721.5V298.5H721V298H720.5V294.1H720V293.6H719.5V293H719V293.6H718.5V301H718V301.7H717.5V304.1H717V304.2H716.5V304.8H716V305H715.5V304.6H715V304.9H714.5V309.1H714V309.5H713.5V308.4H713V308.9H712.5V309.2H712V315.5H711.5V317.8H711V318.1H710.5V318.3H710V475.8H709.5V477H708V475.8H707.5V313.6H707V313.1H706.5V312.4H706V312.5H705.5V314.1H705V314.2H704.5V316.6H704V317H703.5V318.3H703V324.6H702.5V323.9H702V324.4H701.5V322.2H701V320.9H700.5V323.2H700V323H699.5V322.2H699V321.9H698.5V315.8H698V315.4H697.5V315.6H697V315.2H696.5V311.2H696V310.8H695.5V310.6H695V311.2H694.5V317.6H694V318.2H693.5V319.3H693V319.1H692.5V319.9H692V318H691.5V316.9H691V316.8H690.5V316.9H690V316.7H689.5V314.9H689V314.8H688.5V314H688V314.6H687.5V319.5H687V320.1H686.5V321.8H686V321.7H685.5V321.5H685V320.8H684.5V320.9H683.5V321.2H682.5V320.6H682V320H681.5V321.8H680.5V318H680V318.1H679.5V323.2H679V323.3H678.5V321.2H678V320.9H677.5V321.3H677V318.1H676.5V317.7H676V317.6H675.5V318.7H675V703.5H674.5V704.7H673V703.5H672.5V324.1H672V325.1H671.5V326H671V323.3H670.5V322.6H669.5V323.3H669V326H668.5V325H668V325.7H667.5V325.4H667V326H666.5V327.8H666V328.5H665.5V329.2H665V329.9H664.5V330H664V330.7H663.5V332.6H663V704.3H662.5V705.5H660V704.3H659.5V701.8H659V703H657V708.5H656.5V709.7H655.5V708.5H655V703.5H654.5V704.7H652.5V703.5H652V710.1H651.5V711.3H649.5V710.1H649V336.6H648.5V337.7H648V337.4H647.5V336.6H647V332.8H646.5V332.2H646V332.1H645.5V706H645V707.2H643V706H642.5V335.6H642V336H641.5V334.6H641V331.9H640.5V331.2H640V331.1H639.5V331H639V331.2H638.5V335.8H638V704.8H637.5V706H635.5V704.8H635V347.9H634.5V346.6H634V346.8H633.5V598.8H633V600H632V598.8H631.5V354H631V353.7H630.5V346.2H630V345.9H629.5V348.1H628.5V348.7H627.5V349.4H627V702.6H626.5V703.8H624.5V702.6H624V350.9H623.5V350.3H623V598.8H622.5V600H620.5V598.8H620V354.1H619.5V354H619V354.1H618.5V355.5H618V357.4H617.5V356.3H617V356.5H616.5V356.3H616V356H615.5V352.9H615V352.7H614.5V355.8H614V356H613.5V355.1H613V355.5H612.5V354.4H612V354.8H611.5V356H611V356.4H610.5V355.5H610V355.9H609.5V357.3H609V357.7H608.5V359.6H608V360H607.5V360.3H607V360.7H606.5V359.6H605.5V359.4H604V359.3H603.5V359.7H603V359.6H602.5V358.7H602V358.6H601.5V359.3H601V359.2H600.5V358.7H599.5V360.9H599V361H598.5V358.9H598V359.3H597.5V368.2H597V368.6H596.5V367.9H596V367.3H595.5V359.2H595V358.6H594.5V360.3H594V360.8H593.5V366.4H593V366.8H592.5V366.9H592V367.2H591.5V367.8H591V371.6H590.5V371.2H590V370.9H589.5V363.5H589V362.6H588.5V365.4H588V365.5H587.5V363.4H586.5V365.2H586V365.3H585.5V364H585V365.9H584.5V367.3H584V367.4H583.5V367.6H583V367.7H582.5V371.2H582V371.4H581.5V369.3H581V369.4H580.5V368.4H580V369.4H579.5V371.4H579V371.5H578.5V371.1H578V371.4H577.5V375.9H577V709.3H576.5V710.5H573.5V709.3H573V372.8H572.5V375.1H572V375.2H571.5V376H571V377.9H570.5V378.8H570V378.9H569.5V377H569V376.9H568.5V375.9H568V375.8H567.5V377.4H567V377.6H566.5V378.3H566V378.4H565.5V376.4H565V375.8H564.5V710.1H564V711.3H562V710.1H561.5V370.3H561V370.5H560.5V368.6H560V370.5H559.5V371.6H559V371.7H558.5V368.2H558V360.7H557.5V360.6H557V702.6H556.5V703.8H554.5V702.6H554V363.1H553.5V359.3H553V336.8H552.5V334.3H552V328.2H551.5V326.9H551V327H550.5V329.2H550V330.1H549.5V329.3H548.5V329.6H548V329.7H547.5V332H546.5V332.2H546V332.3H545.5V331.7H545V333.7H544.5V334.7H544V336.7H543.5V350.7H543V351.6H542.5V349.9H542V348.9H541.5V346.7H541V344.9H540.5V334.4H540V332.8H539.5V322.7H539V321.2H538.5V319H538V318.4H537.5V319.2H537V319.5H536.5V321.2H536V328.5H535.5V330.7H535V330.8H534.5V327.4H534V326.9H533.5V324.1H533V322.5H532.5V324.2H531.5V323.2H531V324.2H530.5V325.8H530V332H529.5V365.7H529V365.9H528.5V369.1H528V709.3H527.5V710.5H525.5V709.3H525V364.3H524V364.7H523.5V371.4H523V371.8H522.5V369.4H521.5V370.5H521V371.4H520.5V370.5H519.5V373.6H518.5V375.4H518V375.5H517.5V372.5H517V707.6H516.5V708.8H514.5V707.6H514V370.7H513.5V370.1H513V370H512.5V367.6H512V367.1H511.5V361.8H511V361.3H510.5V362.2H510V363.3H509.5V374.4H509V375.5H508.5V377.4H508V376.8H507.5V374.8H507V374.6H506.5V372.8H506V367.9H505.5V367.8H505V367.6H504.5V368.9H504V369H503.5V369.1H503V369.2H502.5V371.6H502V371.5H501.5V369.3H501V368.3H500.5V695.1H500V696.3H498V695.1H497.5V367.3H497V367.2H496.5V365.2H496V363.3H495.5V364.7H495V364.6H494.5V709.8H494V711H490V709.8H489.5V365.9H489V365.7H488.5V361.4H488V361.2H487.5V362.1H487V362.2H486.5V363H486V364H485.5V364.7H485V365H484.5V364.1H484V364.4H483.5V370.6H483V371H482.5V370H482V368H481.5V367.1H481V367.4H480.5V368.9H480V372.7H479.5V370.4H479V370.7H478.5V370.3H478V370.2H477.5V371.6H477V371.5H476.5V372.7H476V372.2H475.5V370.6H475V363.9H474.5V363.7H474V710.5H473.5V711.7H472V710.5H471.5V360.3H470.5V363.2H470V362.8H469.5V359.2H469V537.8H468.5V539H467V537.8H466.5V360.9H466V361.4H465.5V363.9H465V364.2H464.5V363.8H464V364.1H463.5V366.2H463V366.1H462.5V365H462V364.9H461.5V364.5H461V364.3H460.5V363.2H460V363H459.5V361.3H459V361.2H458.5V362.7H458V362.6H457.5V361.9H457V361.8H456.5V362.4H456V361.4H455.5V358.5H455V358.1H454.5V354.1H454V353.5H453.5V354.3H453V354.2H452.5V355.1H451.5V354.8H451V355.3H450.5V357.1H450V708.5H449.5V709.7H447.5V708.5H447V359.7H446.5V355.1H446V354.9H445.5V355.6H445V355.9H444.5V705.1H444V706.3H442.5V705.1H442V363.3H441.5V360.5H441V598.8H440.5V600H439V598.8H438.5V349.8H438V349H437.5V349.5H437V349.4H436.5V350.4H436V350.3H435.5V348.7H435V349H434.5V353.9H434V354.2H433.5V352.8H433V352.2H432.5V349.7H432V349.8H431.5V352.8H431V356.3H430.5V356.4H429.5V357.2H429V355.2H428.5V352.6H428V352.5H427.5V355.1H427V355.5H426.5V353.3H426V353.8H425.5V482.3H425V483.5H423V482.3H422.5V361H422V361.1H421.5V359.7H421V360.1H420.5V360.5H419.5V361.8H419V361.9H418.5V706.5H418V707.7H416.5V706.5H416V361H415.5V364.7H413.5V361.7H412.5V360H412V357H411.5V359.9H411V361.4H410.5V369H410V369.8H409.5V372.3H409V374.2H408.5V374.7H408V374.5H407.5V373.6H407V368.7H406.5V366.1H406V365.4H405.5V360.6H405V359.2H404.5V346.6H404V346.3H403.5V351.1H403V366.6H402.5V365.8H402V366.6H401.5V367.5H401V368.5H400.5V708.8H400V710H398V708.8H397.5V370.9H397V366H396.5V363.3H396V363.7H395.5V368.3H395V368.7H394.5V369.7H393.5V367.5H393V368.4H392.5V369.6H392V369.9H391.5V369.1H391V374.9H390.5V375.5H390V375.4H389.5V377.7H389V370.9H388.5V698.8H388V700H387V698.8H386.5V711.8H386V713H382V711.8H381.5V704.8H381V706H378.5V704.8H378V598.8H377.5V600H376.5V598.8H376V379.8H375.5V379.3H375V380.2H374.5V709.3H374V710.5H371.5V709.3H371V384.7H370.5V381.5H370V381.9H369.5V384.3H368.5V702.8H368V704H365.5V702.8H365V380.7H364.5V381.8H363.5V382.2H363V383.2H362.5V381.4H362V381.5H361.5V383.2H360.5V385.2H360V385.3H359.5V384.7H359V385H358.5V384.9H358V385.1H357.5V386.1H357V386.2H356.5V388.6H356V390.5H355.5V390.9H355V558.8H354.5V560H351.5V558.8H351V704.8H350.5V706H349V704.8H348.5V696.8H348V698H346.5V696.8H346V386.5H345.5V378.6H345V378.1H344.5V378.2H344V378.1H343.5V375.1H343V374.9H342.5Z" fill="#008000" stroke="#008000" stroke-width="0.6"/>
<path d="M342.5 626.58V598H343V595.7H343.5V553.2H344V552H345.5V553.2H346V459.7H346.5V458.5H351V459.7H351.5V529.7H352V528.5H355V478H355.5V476.8H357V478H357.5V593.1H358V595.2H358.5V596.8H359V595H359.5V563.9H360V562.7H361V563.9H361.5V598.1H362V600H362.5V597.8H363V597.7H363.5V595.9H364V593.9H364.5V458.9H365V457.7H368.5V458.9H369V564.2H369.5V563H370.5V564.2H371V455.2H371.5V454H374V455.2H374.5V594.5H375V596.5H375.5V595.8H376V463H376.5V461.8H378V463H378.5V446.9H379V445.7H380.5V446.9H381V462.2H381.5V461H383V462.2H383.5V458.9H384V457.7H388V458.9H388.5V521H389.5V519.8H390V509.2H390.5V508H392V463.9H392.5V462.7H396V463.9H396.5V542.2H397V541H397.5V542.2H398V464.7H398.5V463.5H400.5V464.7H401V548H402.5V546.8H403V482.2H403.5V481H405V482.2H405.5V596.1H406.5V491.4H407V490.2H408.5V491.4H409V563.2H409.5V562H411.5V549.7H412V548.5H413V549.7H413.5V562H415V563.2H415.5V472.2H416V471H418.5V472.2H419V484.3H421V483.1H421.5V560.5H422V559.3H424.5V560.5H425V595.2H425.5V593H426V555.7H426.5V554H427V554.5H427.5V555.2H428V554H428.5V465.5H429V464.3H431V465.5H431.5V486.4H432V485.2H433V486.4H433.5V592.5H434V594.5H434.5V597.7H435V599.3H435.5V602.2H436.5V599.5H437V597.9H437.5V597.5H438V595.5H438.5V471.4H439V470.2H440.5V471.4H441V597.8H441.5V597H442V466.4H442.5V465.2H449.5V466.4H450V592.3H450.5V593.5H451V552.2H451.5V551H452V552.2H452.5V455.5H453V454.3H454.5V455.5H455V596.4H455.5V598.9H456V600.6H456.5V602.2H457V603.4H457.5V604.8H458V605.8H458.5V602.8H459.5V601.8H460V600.8H460.5V602.7H461V601.1H461.5V595.4H462V593.3H462.5V558H463V556.8H464V558H464.5V593H465V594.8H465.5V593.7H466V546.4H466.5V545.2H468V546.4H468.5V595.7H469V597.9H469.5V594.8H470V595H470.5V594.3H471V592.5H471.5V467.2H472V466H474V467.2H474.5V433H475V431.8H477V433H477.5V557.2H478V556H479V557.2H479.5V597.7H480V599.8H480.5V600.6H481V602.2H481.5V606H482V607H482.5V606.2H483V605H483.5V599.6H484V597.9H484.5V598.4H485V562.2H485.5V561H488V562.2H488.5V599H489.5V469.7H490V468.5H494.5V469.7H495V596.7H495.5V599.7H496V601.4H496.5V599.3H497V597.3H497.5V468H498V466.8H500.5V468H501V477.2H501.5V476H503.5V462.2H504V461H506V462.2H506.5V567.2H507V566H508V567.2H508.5V599.5H509V601.5H509.5V599.9H510V601.5H510.5V601.9H511V602.8H511.5V601.6H512V600.3H512.5V603.2H513V601.4H513.5V594.3H514V466.4H514.5V465.2H516.5V466.4H517V482.2H517.5V481H519V482.2H519.5V594.8H520V596.9H520.5V598.8H521V600.5H521.5V600.3H522V601.4H522.5V603.2H523V602.1H523.5V598.8H524V597.1H524.5V599.6H525V447.2H525.5V446H528V447.2H528.5V481H529.5V479.8H530V599.2H530.5V598.3H531V600H531.5V601.4H532V599.7H532.5V598.1H533V488H533.5V486.8H534.5V488H535V596H535.5V597.4H536V599.1H536.5V601.2H537V602.4H537.5V606.5H538V605.3H538.5V604.2H539V602.5H539.5V598.4H540V481.4H540.5V480.2H543.5V481.4H544V597.6H544.5V599.6H545V601.3H545.5V606.5H546V607.7H546.5V606.9H547V607.9H547.5V606.4H548.5V606.2H549.5V606.4H550.5V608.8H551V607.8H551.5V605H552V603.4H552.5V598.2H553V596.2H553.5V460.5H554V459.3H556V460.5H556.5V598H557V600H557.5V604.8H558V606.4H558.5V607.7H559.5V604.8H560V603.2H560.5V602.5H561V600.5H561.5V456.9H562V455.7H564V456.9H564.5V596.1H565V598H565.5V597H566V481.4H566.5V480.2H568V481.4H568.5V596.1H569V598.1H569.5V602.4H570V600.7H570.5V595.6H571V565.5H571.5V564.3H574.5V464.7H575V463.5H576.5V464.7H577V599.1H577.5V598.9H578V596.9H578.5V567.2H579V566H580V481.4H580.5V480.2H582V481.4H582.5V566H583V567.2H583.5V599.3H584V601.2H584.5V602.3H585V603.9H585.5V599.5H586V597.8H586.5V597.7H587V566.4H587.5V565.2H589V466.4H589.5V465.2H591V466.4H591.5V565.2H593V566.4H593.5V594.6H594V596.5H594.5V601.1H595V602.7H595.5V601.8H596V602.7H596.5V601.2H597V599.9H597.5V601.4H598V599.6H598.5V597H599V572.2H599.5V571H602V572.2H602.5V556.4H603V555.2H603.5V482.2H604V481H606V482.2H606.5V500.2H608V499H608.5V557.2H609V556H609.5V557.2H610V594.9H610.5V594.2H611V595.8H611.5V597.4H612V598.5H612.5V602.6H613.5V597.7H614V596.4H614.5V594.9H615V593.1H615.5V591.9H616V584.7H616.5V583.5H617.5V584.7H618V592.1H618.5V594.4H619V596H619.5V594H620V592.2H620.5V595.1H621V465.5H621.5V464.3H623V465.5H623.5V557.2H624V556H625V458.9H625.5V457.7H627.5V458.9H628V549.7H628.5V548.5H631V549.7H631.5V528H632V526.8H633V528H633.5V589.1H634V591H634.5V592.9H635V591.2H635.5V590.4H636V471.4H636.5V470.2H639.5V471.4H640V562.2H640.5V561H642.5V464.7H643V463.5H645V464.7H645.5V585.3H646V585.1H646.5V507.2H647V506H647.5V463.9H648V462.7H652.5V461.4H653V460.2H654.5V461.4H655V462.7H663V463.9H663.5V580.9H664V582.7H664.5V579.8H665V581.1H665.5V580.9H666V579H666.5V579.7H667V449.7H667.5V448.5H669.5V449.7H670V475.2H670.5V474H671.5V475.2H672V456.9H672.5V455.7H675V456.9H675.5V574H676V575.9H676.5V573.9H677V575.5H677.5V577.5H678V577.6H678.5V576.4H679V575.2H680V575.8H680.5V580.1H681V580.4H681.5V578.1H682V577H682.5V576.3H683V575.3H683.5V575.4H684V574.8H684.5V567.2H685V566H686V567.2H686.5V576.1H687V576.7H687.5V573.3H688V574.2H688.5V574.7H689V575.7H689.5V575.3H690V574.2H690.5V574.9H691V573.3H691.5V573.5H692V571.4H692.5V554.7H693V553.5H693.5V453H694V451.8H695.5V453H696V569.1H696.5V574.8H697V576.4H697.5V577.1H698V578.3H698.5V576.1H699V577H699.5V580.2H700.5V577.8H701.5V577.9H702V577.8H702.5V577.7H703.5V576.8H704V575.8H704.5V577.7H705V576.5H705.5V574.1H706V572.5H706.5V568.1H707V543.9H707.5V542.7H709V543.9H709.5V570.3H710V572.3H710.5V572.9H711V574.6H711.5V575.1H712V575.9H712.5V574.5H713V546.1H713.5V546.5H714V547.7H714.5V545.5H715V545.9H715.5V546.6H716V546.9H716.5V544.5H717V544.6H717.5V547.7H718V547.4H718.5V544.6H719V543.9H719.5V544.8H720V543.7H720.5V455.2H721V454H722.5V455.2H723V548.1H723.5V551.2H724V544.8H724.5V546H725V529.5H725.5V528.3H727V529.5H727.5V537.3H728V537.9H728.5V539.4H729V540.6H729.5V540.9H730.5V536.2H731V534.7H731.5V535.4H732V533.2H732.5V429.7H733V428.5H735.5V429.7H736V438H736.5V436.8H739.5V438H740V536.1H740.5V540.8H741V539.1H741.5V449.9H742V448.7H743V449.9H743.5V534.4H744V536.3H744.5V538.3H745V538.2H745.5V536.4H746V534.2H746.5V423.7H747V422.5H748.5V423.7H749V496H750V494.8H750.5V529.6H751V531.4H751.5V529.6H752V527.5H752.5V504.7H753V503.5H754V504.7H754.5V527.5H755V529.1H755.5V528.3H756V527.9H756.5V528H757V526.7H757.5V520.5H758V519.3H759V520.5H759.5V460.5H760V459.3H760.5V459.2H761.5V460.4H762V526.4H762.5V529.9H763V524.7H763.5V523.5H764.5V524.7H765V534.3H765.5V530.1H766V531H767V532.2H767.5V537H768V538.5H768.5V539H769V537.3H769.5V388.7H770V387.5H771V388.7H771.5V444.5H772V443.3H773V444.5H773.5V452H774V450.8H775V452H775.5V548.6H776V551H776.5V555.9H777V553.8H777.5V408.7H778V407.5H779.5V408.7H780V535.2H781V534H781.5V558.3H782V557.7H783V558.9H783.5V562.5H784V562.9H784.5V564.4H785V566.7H785.5V567.6H786V565.7H786.5V518H787V516.8H788V518H788.5V563.1H789V565.5H789.5V569H790V571H790.5V575H791V576.4H791.5V573.4H792V572.5H792.5V571.7H793V570.4H793.5V571.4H794V557.2H794.5V556H795.5V557.2H796V572H796.5V572.8H797V573H797.5V571.3H798V462.9H798.5V460.6H799V461.7H799.5V461.8H800.5V460.6H801V574.1H801.5V575.2H802V577H802.5V577.1H803V578.3H803.5V577.8H804V576.3H804.5V573.7H805V571.8H805.5V539.7H806V538.5H807V539.7H807.5V574H808V576.1H808.5V576.6H809V576.7H809.5V575.7H810V573.7H810.5V534.2H811V533H812V534.2H812.5V575.2H813V577.3H813.5V575.4H814V577.1H814.5V578H815V579H815.5V584.9H816V585H816.5V581.8H817V581.7H817.5V582.2H818.5V582H819V580.9H819.5V577.4H820V575.8H820.5V573.7H821V571.6H821.5V544.4H822V543.2H823V544.4H823.5V571.5H824V573.5H824.5V579.3H825V580.8H825.5V579.1H826V577.8H826.5V575.1H827V573.4H827.5V576.3H828V73.9H828.5V72.7H829.5V73.9H830V573.7H830.5V575H831V576.6H831.5V575.9H832V577.1H832.5V583.4H833V584.4H833.5V583.7H834.5V580.3H835V580.4H835.5V581.3H836.5V579.7H837V579.8H837.5V581.3H838V581.4H838.5V582.9H839.5V580.2H840.5V581.4H841.5V585.3H842.5V583H843.5V584.4H845V584.5H845.5V585.1H846V585.2H846.5V580.5H847.5V584.8H848.5V581.7H849.5V583.4H850V582.4H850.5V579.8H851V578.2H851.5V579.1H852V577.1H852.5V539.2H853V538H854.5V539.2H855V573H855.5V577.2H856V578.8H856.5V576.7H857V575H857.5V578.6H858V576.6H858.5V476.4H859V475.2H860V476.4H860.5V573.1H861V575.1H861.5V574.6H862V576.1H862.5V577.7H863V578.6H863.5V580.6H864V579.6H864.5V578.6H865V577.6H865.5V578.2H866V577.6H866.5V573.4H867V572.2H868V573.4H868.5V580H869V579.6H869.5V575.8H870V573.7H870.5V548.5H871V547.3H872V548.5H872.5V573H873V574.9H873.5V577.3H874V578.8H874.5V581.1H875V582H875.5V578.8H876V578.7H876.5V582H877V581.9H877.5V612.3H877V617.6H876.5V620H875.5V618.1H875V617.3H874.5V617.1H873.5V617.3H873V618.1H872.5V618H872V618.1H871.5V620H871V620.1H870.5V619.6H869.5V618.7H869V618.8H868.5V619.8H868V621.7H867.5V622.5H867V622.6H866.5V620.7H865.5V621H864.5V621.2H864V621.3H863.5V622.4H862.5V624.1H862V624.2H861.5V623.4H861V623.1H860.5V621.8H860V618.6H859.5V618.4H858.5V620.5H858V621.2H857.5V621H856.5V621.3H855.5V620H855V620.1H854V619.9H853V617.3H852.5V617.6H852V617.4H851.5V617.2H851V617.4H850.5V620.1H850V620.3H849.5V620.4H848.5V619.7H848V618.4H847.5V620.6H847V620.5H846.5V618.6H846V618.5H845.5V619H845V618.9H844.5V617.8H844V617.9H843.5V617.8H843V619.7H842.5V620.4H842V620.6H841.5V620.1H841V620H840.5V619.1H840V619H839.5V619.3H839V619.1H838.5V619.5H838V616.9H837.5V615.5H837V615.3H836.5V616H836V616.1H835.5V617.1H835V617.2H834.5V617.5H834V617.6H833.5V618.4H833V620.9H832.5V621.3H832V621.5H831.5V621.9H831V621.7H830.5V619.5H830V615.7H829.5V616.2H829V615.9H828.5V617H828V617.1H827V617.2H826.5V618.5H826V618.6H825.5V617.8H824.5V617.4H824V617.2H823.5V614.6H823V614.4H822.5V615.2H822V615.5H821.5V614.3H821V618.1H820.5V618.8H819.5V618H819V617.8H818.5V615.9H818V615.7H817.5V617.8H817V617.7H816.5V615.4H816V613.5H815.5V614H815V613.9H814.5V615.6H813.5V614.8H812.5V614.1H811.5V614.4H811V614.3H810.5V614.5H810V613.2H809.5V613.7H809V613.6H808.5V614.7H807.5V613.4H806.5V613.6H805.5V613.2H805V613.3H804.5V613.9H804V614H803.5V616.1H803V616.2H802.5V616H802V615.9H801.5V615.8H801V615.2H800.5V615.5H799.5V613.8H798.5V613.5H797.5V614.9H796.5V614.7H796V614.4H795.5V608.3H795V607.9H794.5V608.6H794V608.9H793.5V612.5H793V612.9H792.5V612.7H792V612.9H791.5V613.9H791V617.1H790.5V616.9H790V616.6H789.5V615.3H789V609.4H788.5V609.2H788V609.3H787.5V609.5H787V611.4H786.5V611.7H786V611.8H785.5V611.1H785V611.2H784.5V612.4H784V612.5H783.5V612.8H782.5V611.5H782V610.9H781.5V610.7H781V610.6H780.5V611.4H780V611.1H779.5V607.7H779V607.4H778.5V606.7H778V606.5H777.5V607.4H777V604.9H776.5V605.4H776V605.3H775V605.6H774.5V609H774V609.3H773.5V609.9H773V609.6H772.5V608.2H772V604.4H771.5V604.5H771V604.2H770.5V604.3H770V602.3H769.5V602.5H769V602H768.5V601.4H768V594.4H767.5V594.3H767V593.8H766.5V592.1H766V591.8H765.5V588.3H765V588H764.5V590.1H764V590.8H763.5V597H763V597.8H762.5V600.5H762V601H761.5V600.3H761V606H760.5V605.9H759.5V606.5H759V606H758.5V598.1H758V597.7H757.5V596.5H757V596H756.5V595.5H756V595.4H755.5V595H755V593.5H754.5V594.2H753.5V593.4H752.5V593.7H751.5V594.3H750.5V595.4H750V595.6H749.5V596.1H749V596.5H748.5V601.5H748V601.9H747.5V601.7H747V601.5H746.5V600.7H746V597.5H745.5V597.4H745V597.5H744.5V596.5H744V597H743.5V604.7H743V605.2H742V604.8H741.5V605.5H741V601H740.5V599.3H740V602.8H739.5V603.5H739V603.4H738.5V602.7H738V602.6H737.5V602.1H737V602H736.5V602.7H736V601.4H735.5V600.7H735V600.8H734.5V600.9H734V601.1H733.5V605.1H733V605.3H732.5V603.4H732V603.5H731.5V604.5H731V604.4H730.5V604.9H730V604.3H729.5V603.8H729V603.7H728.5V603.4H728V603.6H727.5V603.7H727V606.9H726.5V608.2H726V608.4H725.5V609H725V608.9H724.5V605.5H724V605.3H723.5V604.3H723V603.7H722.5V599.3H722V598.7H721V598.6H720.5V596.2H720V596.1H719.5V597.1H719V596.9H718.5V596.2H718V594.3H717.5V594.7H717V594.5H716.5V596.7H716V604H715.5V604.3H715V613.5H714.5V615.4H714V615.5H713.5V614.6H713V613.9H712.5V612.7H711.5V614.6H711V614.7H710.5V614.5H710V615.7H709.5V616.4H709V616.5H708.5V616.4H708V616.6H707.5V616.8H707V617H706.5V618.7H706V618.9H705.5V620.6H705V620.7H704V620.6H703.5V620.1H703V620H702.5V619.8H702V619.5H701.5V619.1H701V616H700.5V614.2H700V614.1H699.5V614.2H699V614.1H698.5V614H698V613.9H697.5V614.3H697V614.2H696.5V614H696V614.2H695V617.9H694.5V617.7H694V618H693.5V617H692.5V617.4H692V617.3H691.5V617H691V616.9H690.5V617.2H689.5V616.7H688.5V617H688V617.1H687.5V617.7H686.5V618.7H686V618.8H685.5V618.1H685V618.7H684.5V618.4H683.5V619.9H683V620H682.5V619.7H682V620.3H681.5V620.7H681V620.6H680.5V619H680V618.5H679.5V614H679V613.5H678.5V613.1H677.5V612.3H677V611.7H676.5V611H675.5V612.6H675V613H674.5V616.9H674V617.3H673.5V619.2H672.5V619.6H672V619.5H671.5V617.6H671V617.5H670.5V617.7H670V617.8H669.5V617.4H669V617.7H668.5V622.4H668V622.7H666.5V623.6H665V623.8H664.5V623.1H664V623.4H663.5V627H663V627.3H662.5V628H662V628.2H661.5V627.7H661V631.4H660.5V632.5H660V632.7H659.5V633.1H659V633.6H658.5V637.8H658V638.4H657.5V639.3H657V638.8H656.5V638.2H656V631.2H655.5V630.9H655V630.6H654.5V631.5H654V631.4H653.5V627.9H653V627.7H652.5V628.5H652V628.4H651.5V628.8H651V628.7H650.5V626.9H650V625.7H649.5V626.4H649V626.3H648.5V627.1H648V627H647.5V625.8H646.5V624.8H645.5V624.1H644.5V623.6H643.5V624.2H642.5V625.8H641.5V624.6H640.5V626.1H640V625.4H639.5V624.5H639V624.4H638.5V623.5H638V623.6H637.5V623.9H637V624H636.5V626.1H635.5V625.7H635V625.8H634.5V626.4H634V626.5H633.5V627.7H633V627.8H632.5V628.3H632V628.4H631.5V628.3H630.5V627.2H628.5V628.6H628V628.7H627.5V629.1H627V629.2H626.5V631.2H626V631.3H625.5V629.7H625V629.8H624.5V630.8H622.5V630.2H621.5V629.4H620.5V630H619.5V630.9H618.5V631.3H617.5V629.6H617V629.7H616.5V631.8H615.5V631.3H615V631.4H614.5V631.5H614V631.8H613.5V635H613V635.3H612.5V635.7H612V635.5H611.5V636.4H611V633.9H610.5V634.2H610V634.1H609.5V632.5H609V632.4H608.5V631.2H608V631.1H607.5V631H606.5V633.1H605.5V632.7H605V634H604V634.1H603.5V634.9H602.5V633.2H601.5V633.1H601V633H600.5V631.8H600V631.9H599.5V634.5H599V634.7H598.5V636.7H598V636.9H597.5V637.8H597V638H596.5V638.1H596V637.9H595.5V637.5H595V637.3H594.5V636.3H594V636.2H593.5V636.9H593V636.7H592.5V637.7H592V637.5H591.5V635.7H591V635.6H590.5V636.9H590V635.6H589.5V635.9H588.5V635.3H587V635.2H586.5V634.3H586V634.2H585.5V633.4H584.5V634.7H583.5V636.2H582.5V634.8H582V634.9H581.5V634.8H581V634.7H580.5V636.1H580V634.9H579.5V634.7H578.5V634H578V634.1H577.5V634.7H577V634.8H576.5V635.7H576V635.8H575.5V634.6H575V634.7H574.5V635.1H574V635.2H573.5V636.8H573V636.9H572.5V637.4H572V637.5H571.5V638.5H571V638.7H570.5V638.9H570V642.6H569.5V641.9H569V642.1H568.5V642.6H568V642.4H567.5V642.1H567V641.8H566.5V640.4H566V640.2H565.5V639.6H565V639.4H564.5V641.1H564V640.8H563.5V639H562.5V639.2H561.5V640.6H561V640.7H560.5V639.9H559.5V639.5H558.5V639.3H557.5V639.1H556.5V640.4H555.5V638.8H555V638.6H554.5V639.6H553.5V640.3H552.5V640.1H551.5V639.7H550.5V639.1H549.5V639.4H549V639.3H548.5V637.1H547.5V637.2H546.5V639.1H546V639.2H545.5V637H545V637.6H544.5V638.9H544V639H543.5V638.8H543V638.9H542.5V637.9H542V638H541.5V640.6H540.5V638.9H540V639H538.5V640.6H537.5V639.9H537V639.8H536.5V639.5H536V638.2H535.5V637.9H535V637.8H534.5V639.5H534V639.4H533.5V637.2H532.5V636.9H532V636.8H531.5V637.6H530.5V637.8H530V636.6H529.5V635.2H529V635.1H528.5V635H528V634.9H527.5V634.3H526.5V635.7H526V635.6H525.5V634.8H524.5V635.4H524V635.3H523.5V633.2H523V633.1H522.5V632.3H522V632.2H521.5V633.6H520.5V633.3H520V633.9H519.5V634.2H519V634.3H518.5V633.1H518V633H517.5V632.7H517V632.6H516.5V631H516V630.9H515.5V630.6H514.5V632.5H513.5V632.1H512.5V633.1H511.5V633.6H510.5V632.8H510V632.2H509.5V632H509V631.9H508.5V631.1H507.5V631.3H506.5V633.6H505.5V633.3H504.5V633.5H504V633.6H503.5V633.8H503V633.9H502.5V634.1H501.5V634.6H501V634.5H500.5V635H500V634.6H499.5V633.8H498.5V633.1H497.5V632.9H496.5V631.9H495.5V634.2H495V634.1H494.5V633.1H493.5V632.9H492.5V632.8H491.5V631H491V631.1H490.5V633.2H490V633.8H489.5V632.1H488.5V633.2H488V633.1H487.5V632.5H487V632.4H486.5V630.8H486V630.7H485.5V629.4H485V629.3H483.5V629.7H483V629.6H482.5V629.5H481.5V630H481V630.1H480.5V629.2H480V630.4H479.5V632.1H479V632.2H478.5V632.4H478V632.5H477.5V631.7H477V631.8H476.5V632.5H476V632.6H475.5V634.4H474.5V634.1H474V634H473.5V631.7H473V631.6H472.5V631.3H472V631.2H471.5V630.5H471V630.4H470.5V632.3H470V631.1H469.5V630H468.5V630.2H468V630H467.5V629.3H467V629.1H466.5V627H466V626.8H465.5V624.5H465V624.4H464.5V625H464V625.1H463.5V627.1H463V627.2H462.5V626H462V626.1H461.5V627.2H461V627.3H460.5V626.3H460V627.3H459.5V627.6H459V627.7H458.5V627.2H457.5V628.2H457V628.1H456V628H455.5V627.3H454.5V626.8H454V627H453.5V630H453V630.2H452.5V629.5H452V629.4H451.5V629.2H451V627.3H450.5V629.2H449.5V628.5H449V628.6H448.5V630.3H448V630.4H447.5V631H447V631.1H446.5V629.8H446V629.9H445.5V629.7H445V630.3H444.5V631H443.5V630.8H442.5V631.7H441.5V631.5H441V714.8H440.5V716H439V714.8H438.5V633.9H438V634H437.5V635.2H437V635.4H436V635.5H435.5V635.2H435V637.7H434.5V638H434V638.2H433.5V638.4H433V638.7H432.5V640.3H432V640.6H431.5V640H431V639.7H430.5V639.9H430V634.9H429.5V634.4H429V634.1H428.5V633.8H428V634.1H427.5V635.2H427V638.4H426.5V637.9H426V638.1H425V636.8H424.5V637.9H424V637.6H423.5V637.2H423V634H422V633.7H421.5V633H421V633.1H420.5V633.6H420V636H419.5V635.6H419V635.7H418.5V636H418V636.1H417.5V636.2H416.5V636.8H415.5V637.1H414.5V636.3H414V636.4H413.5V637.3H413V637.4H412.5V638.3H411.5V638.2H410.5V637.1H410V635.8H409.5V636.3H409V636.2H408.5V637H408V636.9H407.5V635.1H407V635H406.5V633H406V632.8H405.5V633.5H404.5V633.8H403.5V632.2H402.5V633.3H402V633.2H401.5V634.4H401V634.6H400.5V636.2H400V636.5H399.5V637.4H399V637.2H398.5V636.2H398V632.4H397.5V632.3H397V632H396.5V631H396V630.9H395.5V632H395V631.3H394.5V632.1H393.5V630.9H393V631H392.5V630.5H392V630.7H391.5V635.2H391V635.3H390.5V635.1H389.5V634.2H389V632.9H388.5V633H388V632.8H387.5V633.7H387V631.2H386.5V629.7H386V629.6H385.5V629.3H385V629.4H384.5V631.2H384V631.3H383V631.5H382.5V631.2H382V631.4H381.5V634.8H381V634.9H380.5V635.3H380V635.4H379.5V635.2H379V635.3H378.5V635.5H377.5V635.2H376.5V636H376V636.1H375.5V635.9H375V637.7H374.5V638.7H374V638.8H373.5V637.7H373V637.8H372.5V639.7H371.5V638.8H370.5V640.2H370V640.1H369.5V638.6H369V638.5H368.5V638H368V637.9H367.5V636.4H367V636.2H366.5V636.4H366V636.7H365.5V637.9H365V641.7H364.5V639.9H364V640.2H363.5V642.3H363V642.4H362.5V642.2H362V643.5H361.5V643.1H360.5V641.6H360V641.3H359.5V642.3H359V642H358.5V641.9H358V641.6H357.5V641H357V640.7H356.5V640.3H355.5V640.8H355V640.2H354.5V639.4H354V639.3H353.5V638.7H353V638.6H352.5V639.8H351.5V639.2H350.5V639.9H350V639.8H349.5V637.8H348.5V638.9H348V638.8H347.5V638.6H346.5V639H345.5V637.9H345V636.7H344.5V636.2H344V636.1H343.5V636.8H343V626.6H342.5Z" fill="#ff0000" stroke="#ff0000" stroke-width="0.6"/>
</g>
<rect x="150.5" y="96.5" width="930" height="616" fill="none" stroke="#000" stroke-width="1.1" shape-rendering="crispEdges"/>
<g stroke="#000" stroke-width="1.1" shape-rendering="crispEdges">
<path d="M150.5 712.5v5"/>
<path d="M266.5 712.5v5"/>
<path d="M383.5 712.5v5"/>
<path d="M499.5 712.5v5"/>
<path d="M615.5 712.5v5"/>
<path d="M731.5 712.5v5"/>
<path d="M848.5 712.5v5"/>
<path d="M964.5 712.5v5"/>
<path d="M1080.5 712.5v5"/>
<path d="M150.5 712.5h-5"/>
<path d="M150.5 624.5h-5"/>
<path d="M150.5 536.5h-5"/>
<path d="M150.5 448.5h-5"/>
<path d="M150.5 360.5h-5"/>
<path d="M150.5 272.5h-5"/>
<path d="M150.5 184.5h-5"/>
<path d="M150.5 96.5h-5"/>
</g>
<text x="333.76" y="87.9" font-size="22.4" textLength="180.15" lengthAdjust="spacingAndGlyphs">EGYPT-Alexandria</text>
<text x="522.74" y="87.9" font-size="22.4" textLength="20.12" lengthAdjust="spacingAndGlyphs">of</text>
<text x="549.79" y="87.9" font-size="22.4" textLength="119.26" lengthAdjust="spacingAndGlyphs">2025/09/10</text>
<text x="677.68" y="87.9" font-size="22.4" textLength="43.29" lengthAdjust="spacingAndGlyphs">with</text>
<text x="727.49" y="87.9" font-size="22.4" textLength="55.05" lengthAdjust="spacingAndGlyphs">focus</text>
<text x="789.37" y="87.9" font-size="22.4" textLength="49.87" lengthAdjust="spacingAndGlyphs">code</text>
<text x="846.51" y="87.9" font-size="22.4" textLength="15.44" lengthAdjust="spacingAndGlyphs">=</text>
<text x="870.49" y="87.9" font-size="22.4" textLength="25.11" lengthAdjust="spacingAndGlyphs">01</text>
<text x="518.46" y="766" font-size="22.4" textLength="96.78" lengthAdjust="spacingAndGlyphs">Universal</text>
<text x="622.17" y="766" font-size="22.4" textLength="51.27" lengthAdjust="spacingAndGlyphs">Time</text>
<text x="680.89" y="766" font-size="22.4" textLength="29.61" lengthAdjust="spacingAndGlyphs">[h]</text>
<g transform="translate(101.3,470.5) rotate(-90)"><text x="-0.78" y="0" font-size="22.4" textLength="79.91" lengthAdjust="spacingAndGlyphs">Y-factor</text><text x="85.68" y="0" font-size="22.4" textLength="43.6" lengthAdjust="spacingAndGlyphs">[dB]</text></g>
<text x="142.97" y="740" font-size="24.6" textLength="14.13" lengthAdjust="spacingAndGlyphs">0</text>
<text x="260.14" y="740" font-size="24.6" textLength="13.57" lengthAdjust="spacingAndGlyphs">3</text>
<text x="376.06" y="740" font-size="24.6" textLength="14.65" lengthAdjust="spacingAndGlyphs">6</text>
<text x="492.28" y="740" font-size="24.6" textLength="14.27" lengthAdjust="spacingAndGlyphs">9</text>
<text x="601.96" y="740" font-size="24.6" textLength="25.94" lengthAdjust="spacingAndGlyphs">12</text>
<text x="718.16" y="740" font-size="24.6" textLength="26.24" lengthAdjust="spacingAndGlyphs">15</text>
<text x="835.11" y="740" font-size="24.6" textLength="27.03" lengthAdjust="spacingAndGlyphs">18</text>
<text x="951" y="740" font-size="24.6" textLength="24.38" lengthAdjust="spacingAndGlyphs">21</text>
<text x="1066.94" y="740" font-size="24.6" textLength="26.46" lengthAdjust="spacingAndGlyphs">24</text>
<text x="126.97" y="721" font-size="24.6" textLength="14.13" lengthAdjust="spacingAndGlyphs">0</text>
<text x="125.62" y="633" font-size="24.6" textLength="12.64" lengthAdjust="spacingAndGlyphs">2</text>
<text x="125.47" y="545" font-size="24.6" textLength="13.18" lengthAdjust="spacingAndGlyphs">4</text>
<text x="126.66" y="457" font-size="24.6" textLength="14.65" lengthAdjust="spacingAndGlyphs">6</text>
<text x="127.13" y="369" font-size="24.6" textLength="13.87" lengthAdjust="spacingAndGlyphs">8</text>
<text x="111.87" y="281" font-size="24.6" textLength="29.33" lengthAdjust="spacingAndGlyphs">10</text>
<text x="112.16" y="193" font-size="24.6" textLength="25.94" lengthAdjust="spacingAndGlyphs">12</text>
<text x="112.13" y="105" font-size="24.6" textLength="26.7" lengthAdjust="spacingAndGlyphs">14</text>
<rect x="912.5" y="104.5" width="160" height="74.7" rx="3" ry="3" fill="#fff" fill-opacity="0.8" stroke="#ccc" stroke-width="1.1"/>
<path d="M918 116.7H953" stroke="#0000ff" stroke-width="2.1" fill="none"/>
<path d="M918 140.6H953" stroke="#008000" stroke-width="2.1" fill="none"/>
<path d="M918 163.8H953" stroke="#ff0000" stroke-width="2.1" fill="none"/>
<text x="976.59" y="123.2" font-size="17.0" textLength="36.11" lengthAdjust="spacingAndGlyphs">48.7</text><text x="1018.36" y="123.2" font-size="17.0" textLength="36.4" lengthAdjust="spacingAndGlyphs">MHz</text>
<text x="976.78" y="146.2" font-size="17.0" textLength="35.91" lengthAdjust="spacingAndGlyphs">73.7</text><text x="1018.36" y="146.2" font-size="17.0" textLength="36.4" lengthAdjust="spacingAndGlyphs">MHz</text>
<text x="971.38" y="170" font-size="17.0" textLength="47.23" lengthAdjust="spacingAndGlyphs">151.8</text><text x="1024.06" y="170" font-size="17.0" textLength="36.4" lengthAdjust="spacingAndGlyphs">MHz</text>
</svg>
</body></html>
